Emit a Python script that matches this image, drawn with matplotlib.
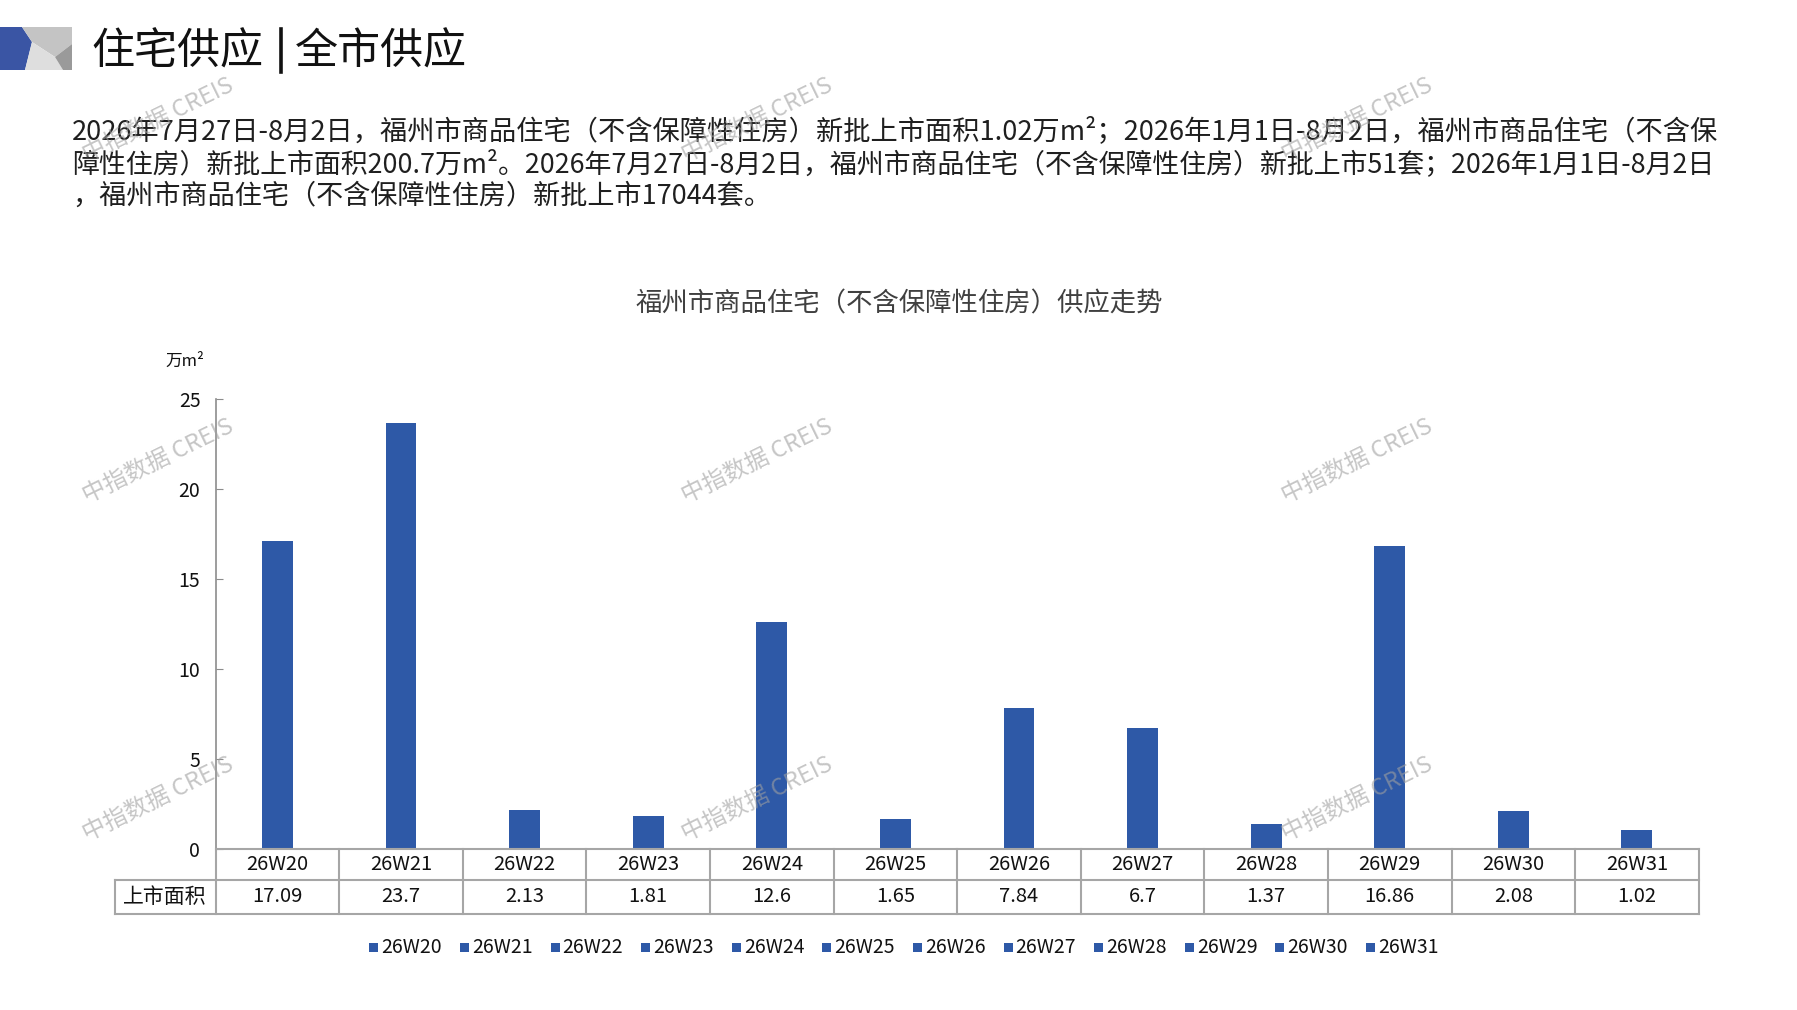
import matplotlib
matplotlib.use('Agg')
import matplotlib.pyplot as plt
from matplotlib.patches import Polygon, Rectangle

plt.rcParams['font.family'] = ['Noto Sans CJK SC', 'DejaVu Sans']

# ---------------- data ----------------
weeks = ['26W20', '26W21', '26W22', '26W23', '26W24', '26W25',
         '26W26', '26W27', '26W28', '26W29', '26W30', '26W31']
area = [17.09, 23.7, 2.13, 1.81, 12.6, 1.65, 7.84, 6.7, 1.37, 16.86, 2.08, 1.02]
area_labels = ['17.09', '23.7', '2.13', '1.81', '12.6', '1.65',
               '7.84', '6.7', '1.37', '16.86', '2.08', '1.02']
yticks = [0, 5, 10, 15, 20, 25]
row_label = '上市面积'
title_left = '住宅供应'
title_right = '全市供应'
chart_title = '福州市商品住宅（不含保障性住房）供应走势'
unit = '万m²'
para = [
    '2026年7月27日-8月2日，福州市商品住宅（不含保障性住房）新批上市面积1.02万m²；2026年1月1日-8月2日，福州市商品住宅（不含保',
    '障性住房）新批上市面积200.7万m²。2026年7月27日-8月2日，福州市商品住宅（不含保障性住房）新批上市51套；2026年1月1日-8月2日',
    '，福州市商品住宅（不含保障性住房）新批上市17044套。',
]
para_sizes = [19.6, 19.4, 19.5]
watermark = '中指数据 CREIS'

BAR = '#2E59A7'
GRID = '#a6a6a6'

W, H = 1797, 1010
K = 1.147  # reference-view to pixel scale
fig = plt.figure(figsize=(W / 100, H / 100), dpi=100)
fig.patch.set_facecolor('white')

L, R, B, T = 188 * K, 1481 * K, 740 * K, 348 * K
ax = fig.add_axes([L / W, 1 - B / H, (R - L) / W, (B - T) / H])
xs = list(range(len(weeks)))
ax.bar(xs, area, width=0.25, color=BAR, zorder=2)
ax.set_xlim(-0.5, len(weeks) - 0.5)
ax.set_ylim(0, 25)
ax.set_yticks(yticks)
ax.set_xticks([])
for s in ['top', 'right']:
    ax.spines[s].set_visible(False)
ax.spines['left'].set_color('#8c8c8c')
ax.spines['left'].set_linewidth(1.2)
ax.spines['bottom'].set_color(GRID)
ax.spines['bottom'].set_linewidth(1.5)
ax.tick_params(axis='y', direction='in', length=5, color='#8c8c8c',
               labelsize=14, pad=11, labelcolor='#111111')

# overlay in pixel coordinates
ov = fig.add_axes([0, 0, 1, 1], facecolor='none')
ov.set_xlim(0, W)
ov.set_ylim(H, 0)
ov.axis('off')

# logo
ov.add_patch(Polygon([(0, 27), (22, 27), (32, 42), (25, 70), (0, 70)], closed=True,
                     facecolor='#3A55A4', edgecolor='none'))
ov.add_patch(Polygon([(22, 27), (72, 27), (72, 44), (55, 57), (32, 42)], closed=True,
                     facecolor='#c4c4c4', edgecolor='none'))
ov.add_patch(Polygon([(32, 42), (55, 57), (63, 70), (25, 70)], closed=True,
                     facecolor='#dedede', edgecolor='none'))
ov.add_patch(Polygon([(72, 44), (72, 70), (63, 70), (55, 57)], closed=True,
                     facecolor='#9a9a9a', edgecolor='none'))

# title
ov.text(80 * K, 45.5 * K, title_left, fontsize=31, va='center', ha='left', color='#111111')
ov.plot([245 * K, 245 * K], [25 * K, 63 * K], color='#111111', lw=2.6)
ov.text(257 * K, 45.5 * K, title_right, fontsize=31, va='center', ha='left', color='#111111')

# paragraph
for line, ly, fs in zip(para, [114, 143, 171], para_sizes):
    ov.text(63 * K, ly * K, line, fontsize=fs, va='center', ha='left', color='#1f1f1f')

# chart title and unit
ov.text(784 * K, 265 * K, chart_title, fontsize=19, va='center', ha='center', color='#404040')
ov.text(161 * K, 315 * K, unit, fontsize=12, va='center', ha='center', color='#111111')

# data table
bounds = []
for i in range(len(weeks) + 1):
    xd = ax.transData.transform((i - 0.5, 0))[0]
    bounds.append(xd)
y_top, y_mid, y_bot = B, 767 * K, 797 * K
tl = 100 * K
lw = 1.5
ov.plot([bounds[0], bounds[-1]], [y_mid, y_mid], color=GRID, lw=lw)
ov.plot([tl, bounds[-1]], [y_bot, y_bot], color=GRID, lw=lw)
ov.plot([tl, bounds[0]], [y_mid, y_mid], color=GRID, lw=lw)
ov.plot([tl, tl], [y_mid, y_bot], color=GRID, lw=lw)
for xb in bounds:
    ov.plot([xb, xb], [y_top, y_bot], color=GRID, lw=lw)
for i, w in enumerate(weeks):
    cx = (bounds[i] + bounds[i + 1]) / 2
    ov.text(cx, (y_top + y_mid) / 2, w, fontsize=14.5, ha='center', va='center', color='#111111')
    ov.text(cx, (y_mid + y_bot) / 2, area_labels[i], fontsize=14.5, ha='center', va='center',
            color='#111111')
ov.text((tl + bounds[0]) / 2, (y_mid + y_bot) / 2, row_label, fontsize=15, ha='center',
        va='center', color='#111111')

# legend
lx0, step = 322 * K, 79 * K
ly = 826 * K
for i, w in enumerate(weeks):
    x0 = lx0 + i * step
    ov.add_patch(Rectangle((x0, ly - 4.5), 9, 9, facecolor=BAR, edgecolor='none'))
    ov.text(x0 + 12, ly, w, fontsize=14, ha='left', va='center', color='#111111')

# watermarks
for wy in [105, 402, 697]:
    for wx in [138, 660, 1183]:
        ov.text(wx * K, wy * K, watermark, fontsize=17, rotation=26, ha='center', va='center',
                color='#a0a0a0', alpha=0.6, zorder=10)

fig.savefig('out.png', dpi=100)
